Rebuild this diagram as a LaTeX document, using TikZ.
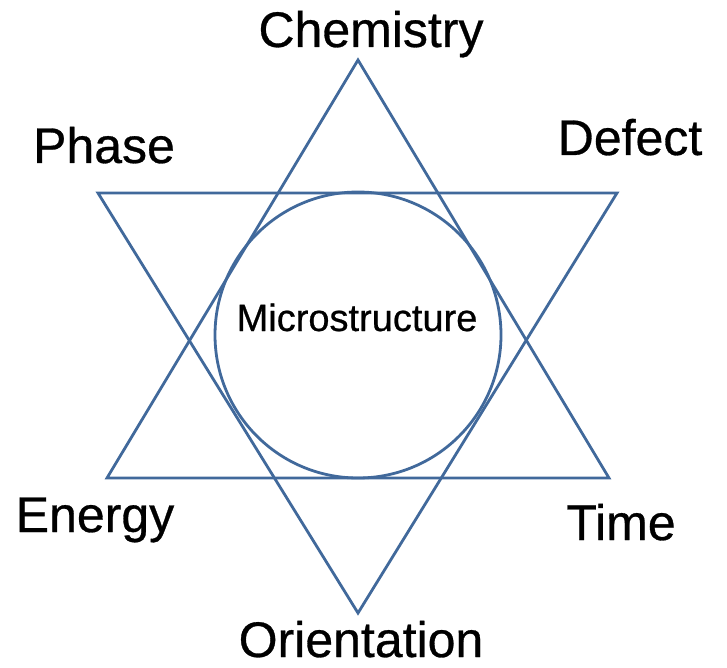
\documentclass[tikz,border=0pt]{standalone}
\usepackage{fontspec}
\setmainfont{Liberation Sans}
\newfontfamily\labelfont{Liberation Sans}[FakeBold=0.6]
\definecolor{starblue}{RGB}{65,105,155}
\tikzset{
  shape line/.style={draw=starblue, line width=2.8pt, line join=miter},
  biglabel/.style={anchor=base, inner sep=0pt, text depth=0pt, font=\labelfont\fontsize{50}{54}\selectfont},
  midlabel/.style={anchor=base, inner sep=0pt, font=\labelfont\fontsize{38}{42}\selectfont}
}
\begin{document}
\begin{tikzpicture}[x=1pt,y=-1pt]
\useasboundingbox (0,0) rectangle (727,668);
% up triangle
\coordinate (ut) at (358,60);
\coordinate (ul) at (107,478);
\coordinate (ur) at (609,478);
% down triangle
\coordinate (dl) at (98,193);
\coordinate (dr) at (617,193);
\coordinate (db) at (358,613);
\draw[shape line] (ut) -- (ur) -- (ul) -- cycle;
\draw[shape line] (dl) -- (dr) -- (db) -- cycle;
\node[shape line, circle, minimum size=286pt, inner sep=0pt] (c) at (358,335) {};
\node[midlabel] (micro) at (357,331) {Microstructure};
\node[biglabel] (chem) at (371,47) {Chemistry};
\node[biglabel] (phase) at (104,163) {Phase};
\node[biglabel] (defect) at (630,155) {Defect};
\node[biglabel] (energy) at (95,532) {Energy};
\node[biglabel] (time) at (621,540) {Time};
\node[biglabel] (orient) at (361,657) {Orientation};
\end{tikzpicture}
\end{document}
